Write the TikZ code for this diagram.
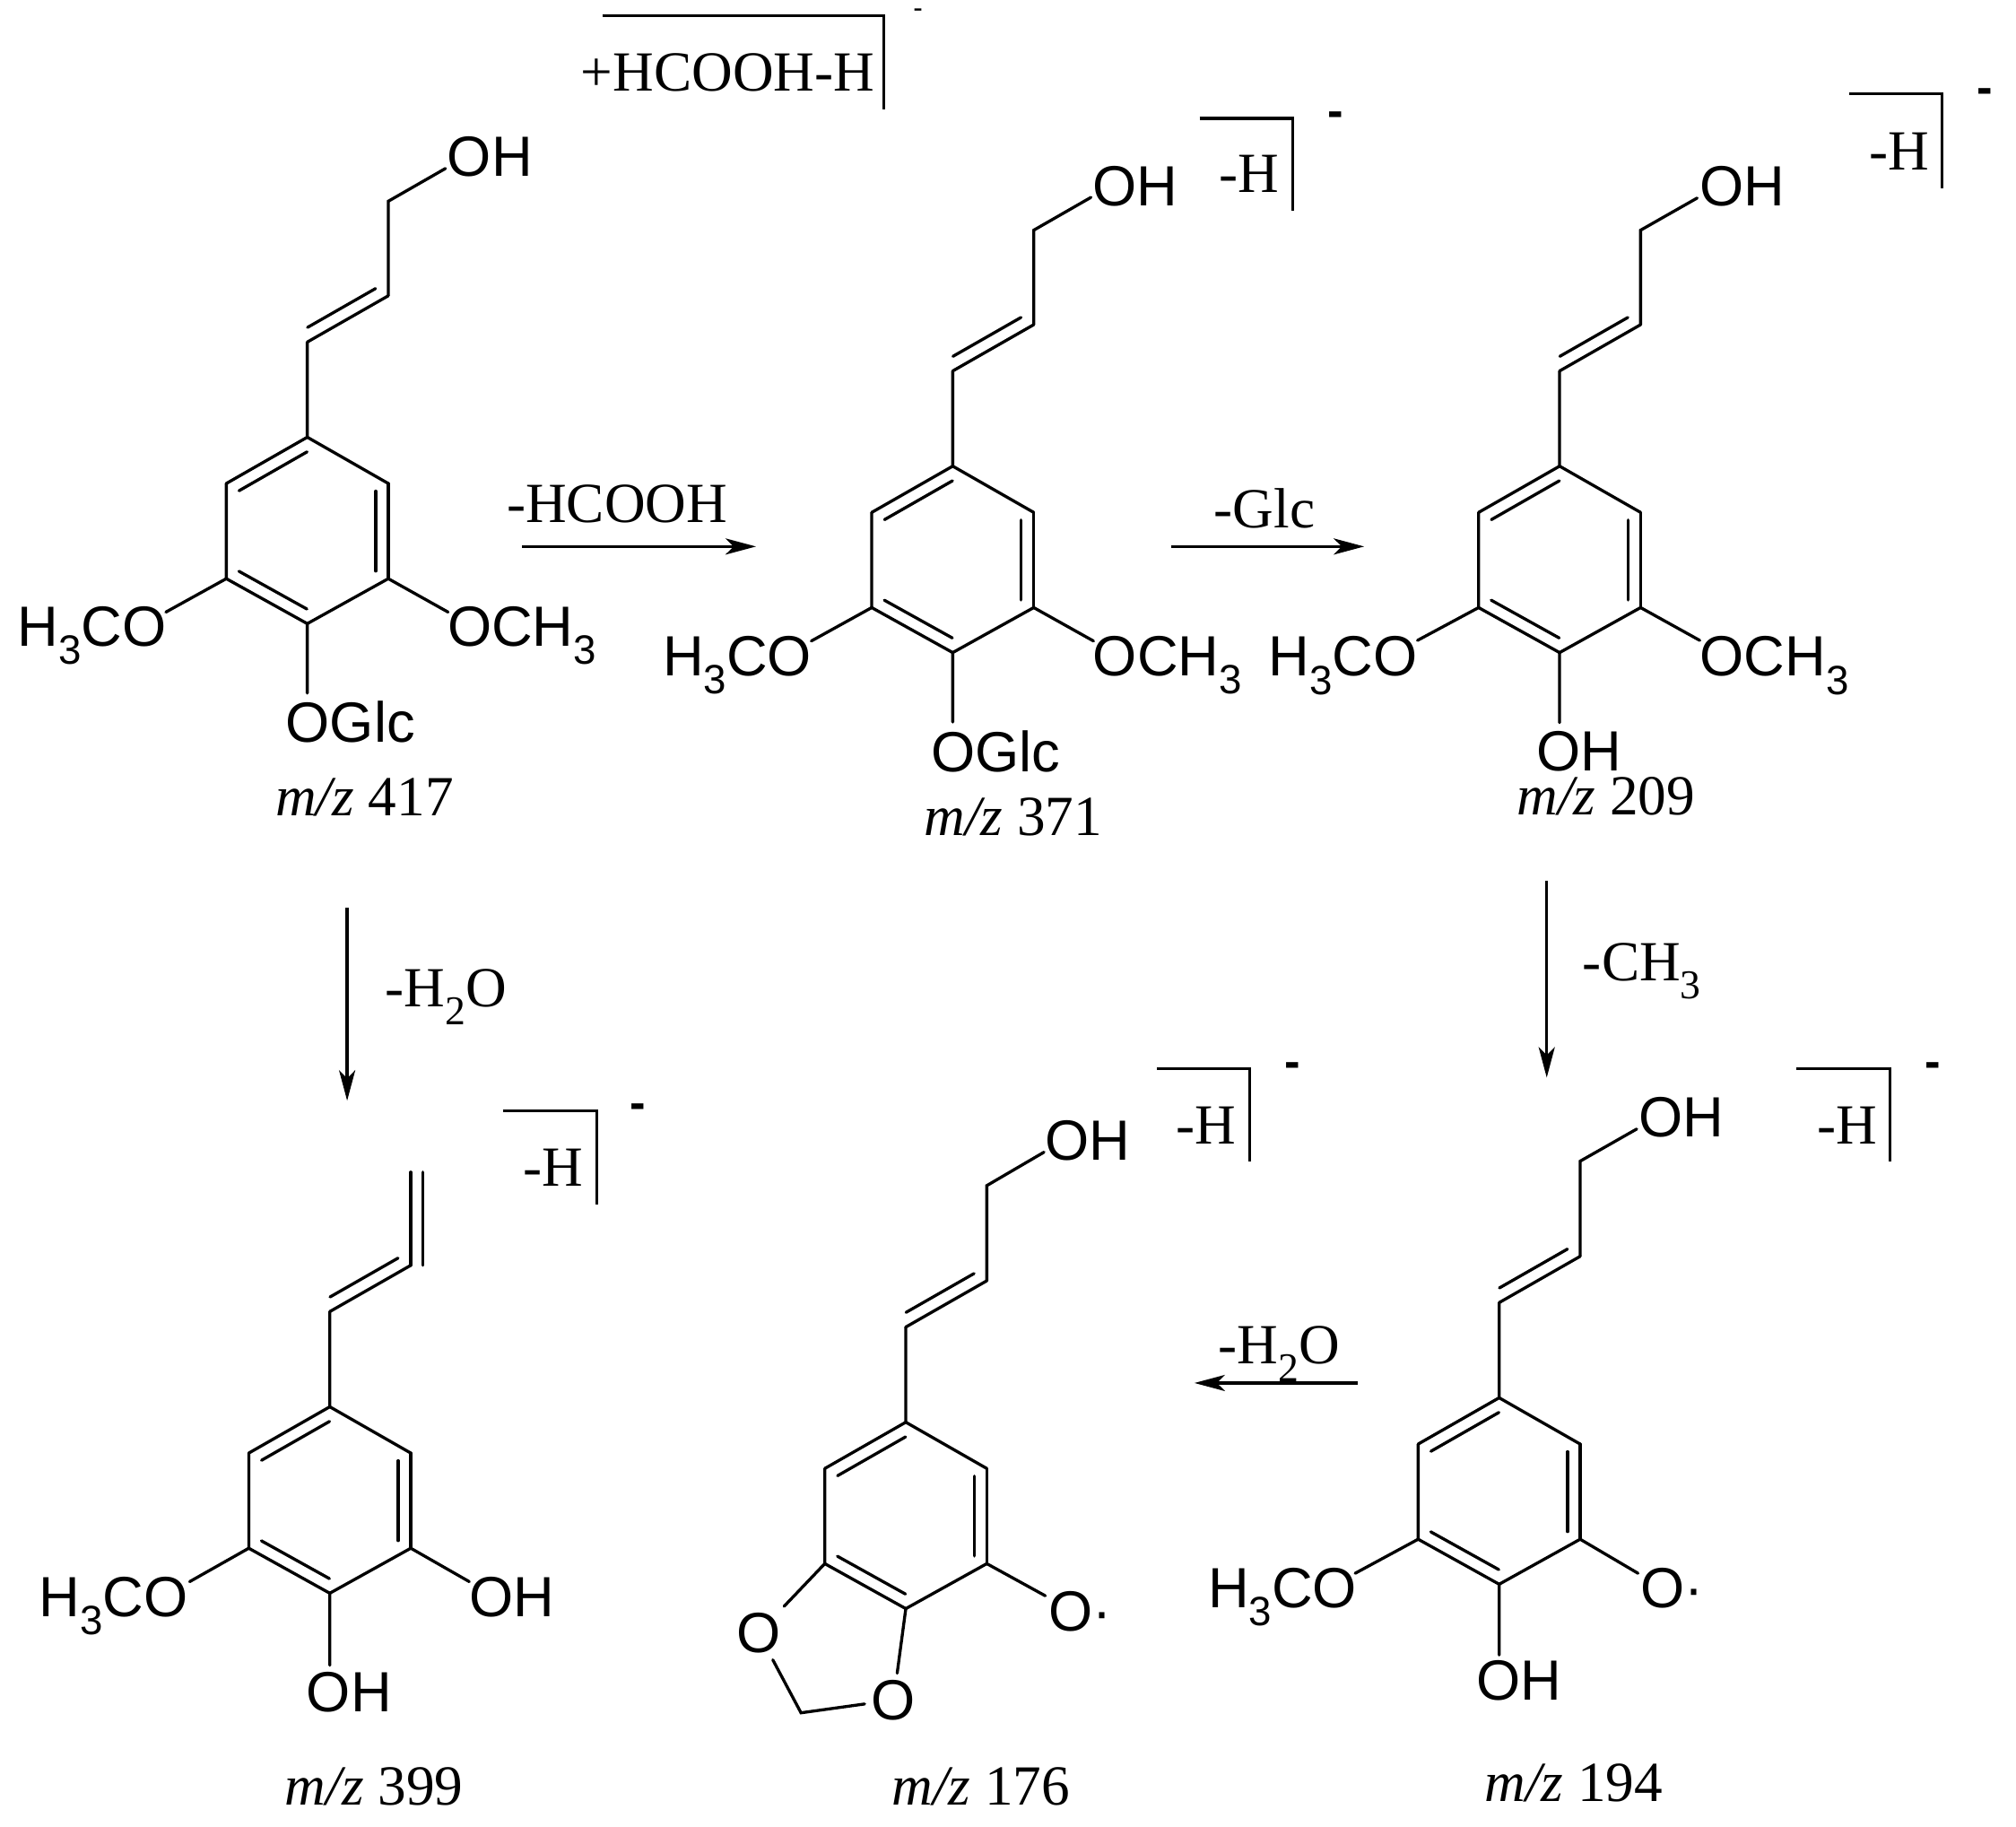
\documentclass[tikz,border=0pt]{standalone}
\usepackage{fontspec}
\setmainfont{Liberation Serif}
\setsansfont{Liberation Sans}
\usetikzlibrary{arrows.meta,calc}
\tikzset{
  bond/.style={line width=0.95pt,line cap=round,line join=miter},
  reaction/.style={line width=0.95pt,-{Stealth[length=3.4mm,width=1.8mm,inset=0.9mm]}},
  atomlabel/.style={inner sep=0pt,text depth=0pt,font=\sffamily\fontsize{18}{18}\selectfont},
  steplabel/.style={inner sep=0pt,text depth=0pt,font=\rmfamily\fontsize{18}{20}\selectfont},
  charge/.style={inner sep=0pt,anchor=base,yshift=-4pt,font=\sffamily\bfseries\fontsize{15}{16}\selectfont},
  thincharge/.style={inner sep=0pt,anchor=base,yshift=-2.4pt,font=\sffamily\fontsize{9}{10}\selectfont}
}
\newcommand{\idx}[1]{\raisebox{-0.32em}{\fontsize{13}{13}\selectfont #1}}
% double bond: outer line plus a shorter one on its left
\newcommand{\dbl}[2]{
  \draw[bond] (#1) -- (#2);
  \draw[bond] ($(#1)!0.08!(#2)!4pt!90:(#2)$) -- ($(#2)!0.08!(#1)!4pt!-90:(#1)$);
}
% ring and side chain, named by the prefix #1, ring top at (#2,#3)
\newcommand{\ringchain}[3]{
  \begin{scope}[shift={(#2,#3)}]
  \coordinate (#1t) at (0,0);
  \coordinate (#1ur) at (63,36);
  \coordinate (#1lr) at (63,110);
  \coordinate (#1b) at (0,145);
  \coordinate (#1ll) at (-63,110);
  \coordinate (#1ul) at (-63,36);
  \coordinate (#1ca) at (0,-74);
  \coordinate (#1cb) at (63,-110);
  \draw[bond] (#1t) -- (#1ur) (#1lr) -- (#1b) (#1ll) -- (#1ul) (#1t) -- (#1ca);
  \dbl{#1t}{#1ul}
  \dbl{#1lr}{#1ur}
  \dbl{#1ll}{#1b}
  \dbl{#1ca}{#1cb}
  \end{scope}
}
% bracket: name, left, top, right, bottom, label, label x, label y
\newcommand{\bracket}[8]{
  \coordinate (#1a) at (#2,#3);
  \coordinate (#1c) at (#4,#3);
  \coordinate (#1d) at (#4,#5);
  \draw[bond,line cap=butt] (#1a) -- (#1c) -- (#1d);
  \node[steplabel] (#1txt) at (#7,#8) {#6};
}
\begin{document}
\begin{tikzpicture}[x=0.014337cm,y=-0.014337cm]
\useasboundingbox (0,0) rectangle (1568,1420.8);

% m/z 417
\ringchain{p}{239}{340}
\coordinate (pcc) at (302,156.5);
\coordinate (pohe) at (346.5,131);
\coordinate (pmee) at (129,476);
\coordinate (pome) at (348.5,476);
\coordinate (pgle) at (239,539);
\draw[bond] (pcb) -- (pcc) -- (pohe) (pll) -- (pmee) (plr) -- (pome) (pb) -- (pgle);
\node[atomlabel] (poh) at (381,122) {OH};
\node[atomlabel] (pme) at (71.5,487) {H\idx{3}CO};
\node[atomlabel] (pom) at (406,487) {OCH\idx{3}};
\node[atomlabel] (pgl) at (272.5,561) {OGlc};
\node[steplabel] (pmz) at (283.5,620) {\textit{m/z} 417};
\bracket{bp}{468.5}{12}{687.5}{85}{+HCOOH-H}{566}{56}
\node[thincharge] (bpq) at (714,8) {-};

% m/z 371
\ringchain{g}{741}{362.5}
\coordinate (gcc) at (804,179);
\coordinate (gohe) at (848.5,153.5);
\coordinate (gmee) at (631,498.5);
\coordinate (gome) at (850.5,498.5);
\coordinate (ggle) at (741,561.5);
\draw[bond] (gcb) -- (gcc) -- (gohe) (gll) -- (gmee) (glr) -- (gome) (gb) -- (ggle);
\node[atomlabel] (goh) at (883,145) {OH};
\node[atomlabel] (gme) at (573.5,510) {H\idx{3}CO};
\node[atomlabel] (gom) at (908,510) {OCH\idx{3}};
\node[atomlabel] (ggl) at (774.5,584) {OGlc};
\node[steplabel] (gmz) at (788,635) {\textit{m/z} 371};
\bracket{bg}{933}{92}{1005.5}{164}{-H}{971.5}{135}
\node[charge] (bgq) at (1039,89) {-};

% m/z 209
\ringchain{a}{1213}{362.5}
\coordinate (acc) at (1276,179);
\coordinate (aohe) at (1320,154);
\coordinate (amee) at (1102.5,498);
\coordinate (aome) at (1322,498);
\coordinate (aole) at (1213,562);
\draw[bond] (acb) -- (acc) -- (aohe) (all) -- (amee) (alr) -- (aome) (ab) -- (aole);
\node[atomlabel] (aoh) at (1355,145) {OH};
\node[atomlabel] (ame) at (1044.5,510.5) {H\idx{3}CO};
\node[atomlabel] (aom) at (1380,510.5) {OCH\idx{3}};
\node[atomlabel] (aol) at (1228,584) {OH};
\node[steplabel] (amz) at (1249,619) {\textit{m/z} 209};
\bracket{ba}{1438}{73}{1510.5}{146.5}{-H}{1477}{118}
\node[charge] (baq) at (1543.5,71) {-};

% m/z 399
\ringchain{w}{256.5}{1094}
\coordinate (wva) at (319.5,911.5);
\coordinate (wwa) at (329,984);
\coordinate (wwb) at (329,911.5);
\coordinate (wmee) at (147.5,1230);
\coordinate (wohe) at (365,1230);
\coordinate (wole) at (256.5,1295);
\draw[bond] (wcb) -- (wva) (wwa) -- (wwb);
\draw[bond] (wll) -- (wmee) (wlr) -- (wohe) (wb) -- (wole);
\node[atomlabel] (wme) at (88.5,1242) {H\idx{3}CO};
\node[atomlabel] (woh) at (398,1242) {OH};
\node[atomlabel] (wol) at (271.5,1315.5) {OH};
\node[steplabel] (wmz) at (291,1389) {\textit{m/z} 399};
\bracket{bw}{391}{864}{464}{936.5}{-H}{430}{908}
\node[charge] (bwq) at (496,860) {-};

% m/z 176
\ringchain{d}{704.5}{1106}
\coordinate (dcc) at (767.5,922);
\coordinate (dohe) at (812,896);
\coordinate (dore) at (813,1241);
\draw[bond] (dcb) -- (dcc) -- (dohe) (dlr) -- (dore);
\node[atomlabel] (doh) at (846,887) {OH};
\node[atomlabel,anchor=west] (dor) at (815,1253) {O\textperiodcentered};
\node[atomlabel,inner sep=2pt] (dol) at (590,1270) {O};
\node[atomlabel,inner sep=2pt] (doo) at (695,1322) {O};
\coordinate (dch) at (623,1332);
\draw[bond] (dll) -- (dol) (db) -- (doo) (dol) -- (dch) -- (doo);
\node[steplabel] (dmz) at (763,1389) {\textit{m/z} 176};
\bracket{bd}{900}{831}{972}{903}{-H}{938}{875}
\node[charge] (bdq) at (1005.5,828.5) {-};

% m/z 194
\ringchain{m}{1166}{1087}
\coordinate (mcc) at (1229,903);
\coordinate (mohe) at (1273,878);
\coordinate (mmee) at (1054,1223.5);
\coordinate (more) at (1274,1223.5);
\coordinate (mole) at (1166,1287);
\draw[bond] (mcb) -- (mcc) -- (mohe) (mll) -- (mmee) (mlr) -- (more) (mb) -- (mole);
\node[atomlabel] (moh) at (1307.5,869) {OH};
\node[atomlabel] (mme) at (997.5,1235) {H\idx{3}CO};
\node[atomlabel,anchor=west] (mor) at (1275.5,1235) {O\textperiodcentered};
\node[atomlabel] (mol) at (1181.5,1307) {OH};
\node[steplabel] (mmz) at (1224,1386) {\textit{m/z} 194};
\bracket{bm}{1397}{831}{1470}{903}{-H}{1436.5}{875}
\node[charge] (bmq) at (1503,828.5) {-};

% reaction arrows
\coordinate (ra) at (406,425);
\coordinate (rb) at (588,425);
\draw[reaction] (ra) -- (rb);
\node[steplabel] (rl) at (480,391.5) {-HCOOH};
\coordinate (sa) at (911,425);
\coordinate (sb) at (1061,425);
\draw[reaction] (sa) -- (sb);
\node[steplabel] (sl) at (983.5,395) {-Glc};
\coordinate (ta) at (1203,685);
\coordinate (tb) at (1203,838);
\draw[reaction] (ta) -- (tb);
\node[steplabel] (tl) at (1277,748) {-CH\idx{3}};
\coordinate (ua) at (270,706);
\coordinate (ub) at (270,856);
\draw[reaction] (ua) -- (ub);
\node[steplabel] (ul) at (347,768) {-H\idx{2}O};
\coordinate (va) at (1056,1075.5);
\coordinate (vb) at (929,1075.5);
\draw[reaction] (va) -- (vb);
\node[steplabel] (vl) at (995,1046) {-H\idx{2}O};
\end{tikzpicture}
\end{document}
